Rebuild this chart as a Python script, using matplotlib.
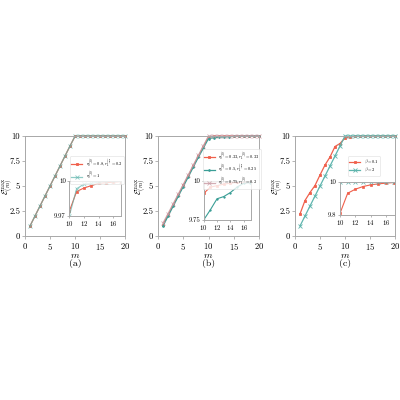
import numpy as np
import matplotlib
matplotlib.use("Agg")
import matplotlib.pyplot as plt

plt.rcParams["font.family"] = "serif"
plt.rcParams["font.serif"] = ["cmr10", "DejaVu Serif"]
plt.rcParams["mathtext.fontset"] = "cm"
plt.rcParams["axes.formatter.use_mathtext"] = True

# data
m = np.arange(1, 21)

a_red = [1, 2, 3, 4, 5, 6, 7, 8, 9, 9.974, 9.991, 9.994, 9.996, 9.998, 9.9985,
         9.999, 9.9995, 10.0, 10.0, 10.0]
a_teal = [1, 2, 3, 4, 5, 6, 7, 8, 9, 9.970, 9.9934, 9.9973, 9.998, 9.999, 9.9995,
          9.9998, 10.0, 10.0, 10.0, 10.0]

b_red = [1.15, 2.12, 3.1, 4.08, 5.06, 6.04, 7.02, 8.0, 8.95, 9.92, 9.961, 9.970,
         9.980, 9.986, 9.992, 9.995, 9.997, 9.998, 9.999, 10.0]
b_teal = [1.0, 2.0, 2.98, 3.96, 4.94, 5.92, 6.9, 7.88, 8.8, 9.75, 9.815, 9.886,
          9.900, 9.926, 9.961, 9.985, 9.99, 9.995, 9.998, 9.999]
b_pink = [1.3, 2.25, 3.22, 4.18, 5.15, 6.12, 7.1, 8.07, 9.04, 9.995, 9.997, 9.998,
          9.999, 9.999, 10.0, 10.0, 10.0, 10.0, 10.0, 10.0]

c_red = [2.2, 3.55, 4.35, 5.05, 6.1, 7.1, 7.9, 8.95, 9.25, 9.81, 9.930, 9.954,
         9.970, 9.980, 9.986, 9.990, 9.994, 9.996, 9.998, 9.999]
c_teal = [1, 2, 3, 4, 5, 6, 7, 8, 9, 9.999, 9.9995, 10.0, 10.0, 10.0, 10.0,
          10.0, 10.0, 10.0, 10.0, 10.0]

lab_a = [r"$r_0^{(l)}=0.8, r_1^{(l)}=0.2$", r"$r_0^{(l)}=1$"]
lab_b = [r"$r_0^{(l)}=0.33, r_1^{(l)}=0.33$", r"$r_0^{(l)}=0.5, r_1^{(l)}=0.25$",
         r"$r_0^{(l)}=0.75, r_1^{(l)}=0.2$"]
lab_c = [r"$\beta=0.1$", r"$\beta=2$"]

inset_ylim = [(9.97, 10.0), (9.75, 10.0), (9.8, 10.0)]
inset_ylab = [["9.97", "10"], ["9.75", "10"], ["9.8", "10"]]

RED = "#f0604c"
TEAL = "#5fb5ad"
DTEAL = "#3a9e96"
PINK = "#c99aa3"
SPINE = "#a8a8a8"

fig = plt.figure(figsize=(4, 4), dpi=100)

main_pos = [(25, 100), (158, 101), (295, 100)]
inset_pos = [(0.443, 0.20, 0.52, 0.35), (0.452, 0.16, 0.47, 0.39), (0.45, 0.21, 0.545, 0.335)]
leg_anchor = [(1.01, 0.82), (1.04, 0.89), (0.87, 0.82)]
panels = ["(a)", "(b)", "(c)"]


def style(ax, fs):
    for s in ax.spines.values():
        s.set_color(SPINE)
        s.set_linewidth(0.7)
    ax.tick_params(colors=SPINE, labelcolor="black", labelsize=fs,
                   length=2, width=0.6, pad=1.5)


series = [
    [(a_red, RED, "s", 2.0, 1.0, lab_a[0]), (a_teal, TEAL, "x", 2.5, 0.7, lab_a[1])],
    [(b_red, RED, "s", 2.0, 1.0, lab_b[0]), (b_teal, DTEAL, ".", 2.5, 1.0, lab_b[1]),
     (b_pink, PINK, "x", 2.5, 0.8, lab_b[2])],
    [(c_red, RED, "s", 2.0, 1.0, lab_c[0]), (c_teal, TEAL, "x", 2.5, 1.0, lab_c[1])],
]

for i in range(3):
    x0, w = main_pos[i]
    ax = fig.add_axes([x0 / 400, 1 - 236 / 400, w / 400, 100 / 400])
    for ys, col, mk, ms, al, lab in series[i]:
        ax.plot(m, ys, color=col, marker=mk, ms=ms, lw=0.9, mew=0.6, alpha=al,
                label=lab, clip_on=False)
    ax.set_xlim(0, 20)
    ax.set_ylim(0, 10)
    ax.set_xticks([0, 5, 10, 15, 20])
    ax.set_yticks([0, 2.5, 5, 7.5, 10])
    ax.set_yticklabels(["0", "2.5", "5", "7.5", "10"])
    style(ax, 6.2)
    ax.set_xlabel("$m$", fontsize=7, labelpad=0)
    ax.set_ylabel(r"$\mathcal{E}^{\mathrm{max}}_{(m)}$", fontsize=6, va="center")
    ax.yaxis.set_label_coords(-0.17, 0.5)
    ax.text(0.5, -0.28, panels[i], transform=ax.transAxes, ha="center",
            va="center", fontsize=7)

    leg = ax.legend(loc="upper right", bbox_to_anchor=leg_anchor[i], fontsize=3.2,
                    handlelength=2.4, borderpad=0.3, labelspacing=0.1,
                    frameon=True, fancybox=True)
    leg.get_frame().set_edgecolor("#dddddd")
    leg.get_frame().set_linewidth(0.5)
    leg.set_zorder(10)

    ins = ax.inset_axes(inset_pos[i])
    for ys, col, mk, ms, al, lab in series[i]:
        ins.plot(m, ys, color=col, marker=mk, ms=ms - 0.3, lw=0.8, mew=0.5, alpha=al)
    ins.set_xlim(10, 17.1)
    ins.set_ylim(*inset_ylim[i])
    ins.set_xticks([10, 12, 14, 16])
    ins.set_yticks(list(inset_ylim[i]))
    ins.set_yticklabels(inset_ylab[i])
    style(ins, 4.8)
    ins.tick_params(length=1.5, pad=1)

fig.savefig("out.png", dpi=100)
